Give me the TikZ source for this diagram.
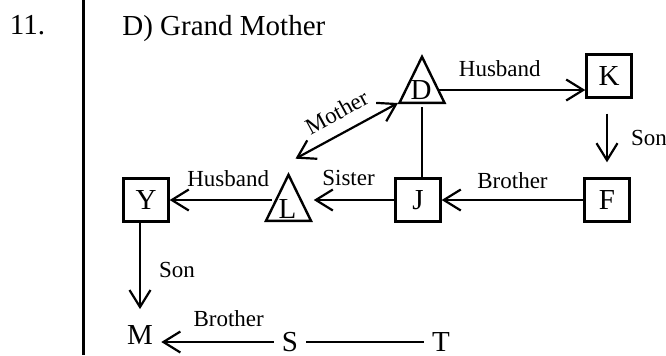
\documentclass[tikz,border=0pt]{standalone}
\usepackage{fontspec}
\setmainfont{Liberation Serif}
\usetikzlibrary{arrows.meta, calc, shapes.geometric}

\tikzset{
  big/.style={font=\fontsize{14.5}{17}\selectfont},
  male/.style={big, draw, line width=1.2pt, minimum width=22.5pt, minimum height=21.5pt, inner sep=0pt},
  female/.style={draw, line width=1.2pt, isosceles triangle, isosceles triangle stretches,
    shape border rotate=90, minimum width=22.5pt, minimum height=23pt, inner sep=0pt, anchor=lower side},
  letter/.style={big, inner sep=3pt},
  plain/.style={big, inner sep=4pt},
  rel/.style={font=\fontsize{11.5}{13}\selectfont, inner sep=0pt},
  link/.style={line width=1.1pt},
  arr/.style={link, -{Straight Barb[length=8.5pt, width=10.5pt]}},
  dbl/.style={link, {Straight Barb[length=8.5pt, width=10.5pt]}-{Straight Barb[length=8.5pt, width=10.5pt]}},
}

\begin{document}
\begin{tikzpicture}[x=0.5pt, y=-0.5pt]
    \useasboundingbox (0,0) rectangle (666,355);

    % question number and answer
    \node[big, anchor=base, inner sep=0pt] (num) at (27.5,34) {11.};
    \draw[line width=1.5pt] (83.3,0) -- (83.3,355);
    \node[big, anchor=base west, inner sep=0pt] (ans) at (122,35) {D) Grand Mother};

    % family members
    \node[female] (D) at (422,104) {};
    \node[letter] (Dl) at ($(D.lower side)+(-1,-14)$) {D};
    \node[male] (K) at (609,76) {K};
    \node[male] (F) at (607,200) {F};
    \node[male] (J) at (418,200) {J};
    \node[female] (L) at (288.5,222) {};
    \node[letter] (Ll) at ($(L.lower side)+(-1,-13)$) {L};
    \node[male] (Y) at (146,200) {Y};
    \node[plain] (M) at (140,335) {M};
    \node[plain] (S) at (290,342) {S};
    \node[plain] (T) at (441,342) {T};

    % relations
    \draw[arr] (Dl.east) -- (Dl.east -| K.west)
        node[rel, pos=0.42, above=6pt] {Husband};
    \draw[arr, shorten <=7.5pt, shorten >=7.5pt] (F.north |- K.south) -- (F.north)
        node[rel, midway, right=11.5pt] {Son};
    \draw[arr] (F.west) -- (J.east)
        node[rel, midway, above=5pt] {Brother};
    \draw[link, shorten <=1.5pt] (D.lower side) -- (D.lower side |- J.north);
    \draw[arr, shorten >=5.5pt] (J.west) -- (J.west -| Ll.east)
        node[rel, midway, above=6.5pt] {Sister};
    \draw[arr] (Y.east -| Ll.west) -- (Y.east)
        node[rel, pos=0.43, above=6pt] {Husband};
    \draw[dbl] ($(L.apex)+(7,-13)$) -- ($(D.lower side)+(-24,-1)$)
        node[rel, midway, sloped, above=6pt] {Mother};
    \draw[arr, shorten >=4pt] (M.north |- Y.south) -- (M.north)
        node[rel, midway, right=9pt] {Son};
    \draw[arr] (S.west) -- (S.west -| M.east)
        node[rel, pos=0.4, above=7pt] {Brother};
    \draw[link] (S.east) -- (T.west);
\end{tikzpicture}
\end{document}
